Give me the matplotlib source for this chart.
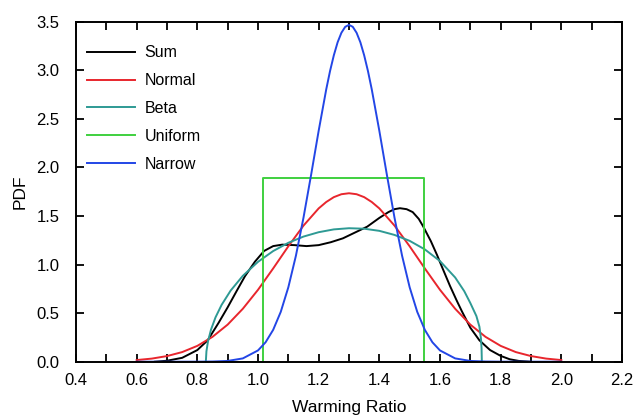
import numpy as np
import matplotlib
matplotlib.use("Agg")
import matplotlib.pyplot as plt
from matplotlib.ticker import MultipleLocator

plt.rcParams['font.family'] = ['Liberation Sans', 'DejaVu Sans']

# values
sum_x = [0.66, 0.70, 0.75, 0.80, 0.834, 0.87, 0.90, 0.93, 0.957, 0.99, 1.02, 1.05, 1.08,
         1.12, 1.16, 1.20, 1.24, 1.28, 1.32, 1.36, 1.40, 1.43, 1.45, 1.468, 1.49, 1.51,
         1.53, 1.545, 1.57, 1.59, 1.61, 1.633, 1.655, 1.672, 1.70, 1.73, 1.765, 1.80,
         1.83, 1.86, 1.90]
sum_y = [0.0, 0.01, 0.04, 0.12, 0.22, 0.40, 0.56, 0.73, 0.88, 1.03, 1.14, 1.19, 1.205,
         1.20, 1.19, 1.20, 1.23, 1.27, 1.33, 1.39, 1.48, 1.54, 1.57, 1.58, 1.57, 1.54,
         1.47, 1.39, 1.24, 1.10, 0.95, 0.78, 0.63, 0.52, 0.35, 0.22, 0.12, 0.06,
         0.025, 0.008, 0.0]

normal_x = [0.60, 0.65, 0.70, 0.75, 0.80, 0.85, 0.90, 0.95, 1.00, 1.05, 1.10, 1.15,
            1.20, 1.225, 1.25, 1.275, 1.30, 1.325, 1.35, 1.375, 1.40, 1.45, 1.50,
            1.55, 1.60, 1.65, 1.70, 1.75, 1.80, 1.85, 1.90, 1.95, 2.00]
normal_y = [0.017, 0.032, 0.058, 0.099, 0.163, 0.256, 0.382, 0.545, 0.740, 0.960, 1.188,
            1.401, 1.578, 1.644, 1.694, 1.724, 1.734, 1.724, 1.694, 1.644, 1.578, 1.401,
            1.188, 0.960, 0.740, 0.545, 0.382, 0.256, 0.163, 0.099, 0.058, 0.032, 0.017]

beta_x = [0.828, 0.830, 0.835, 0.845, 0.86, 0.88, 0.91, 0.95, 1.00, 1.05, 1.10, 1.15,
          1.20, 1.25, 1.30, 1.35, 1.40, 1.45, 1.50, 1.55, 1.60, 1.65, 1.68, 1.70,
          1.72, 1.73, 1.735, 1.737, 1.738]
beta_y = [0.0, 0.107, 0.207, 0.330, 0.457, 0.585, 0.733, 0.884, 1.028, 1.139, 1.224,
          1.288, 1.333, 1.362, 1.374, 1.369, 1.347, 1.305, 1.244, 1.156, 1.036, 0.867,
          0.726, 0.604, 0.47, 0.36, 0.24, 0.14, 0.0]

uniform_x = [0.60, 1.018, 1.018, 1.547, 1.547, 2.00]
uniform_y = [0.0, 0.0, 1.89, 1.89, 0.0, 0.0]

narrow_x = [0.60, 0.80, 0.85, 0.90, 0.95, 1.00, 1.025, 1.05, 1.075, 1.10, 1.125, 1.15,
            1.175, 1.20, 1.225, 1.2375, 1.25, 1.2625, 1.275, 1.2875, 1.30, 1.3125,
            1.325, 1.3375, 1.35, 1.3625, 1.375, 1.40, 1.425, 1.45, 1.475, 1.50, 1.525,
            1.55, 1.575, 1.60, 1.65, 1.70, 1.75, 1.80, 2.00]
narrow_y = [0.0, 0.0003, 0.002, 0.008, 0.034, 0.116, 0.200, 0.328, 0.513, 0.766, 1.091,
            1.483, 1.922, 2.377, 2.804, 2.992, 3.154, 3.288, 3.386, 3.447, 3.467, 3.447,
            3.386, 3.288, 3.154, 2.992, 2.804, 2.377, 1.922, 1.483, 1.091, 0.766, 0.513,
            0.328, 0.200, 0.116, 0.034, 0.008, 0.002, 0.0003, 0.0]

fig = plt.figure(figsize=(6.35, 4.17), dpi=100)
ax = fig.add_axes([0.1197, 0.1326, 0.8598, 0.8154])

lw = 1.4
ax.plot(sum_x, sum_y, color='black', lw=lw, label='Sum')
ax.plot(normal_x, normal_y, color='#e8262d', lw=lw, label='Normal')
ax.plot(beta_x, beta_y, color='#2e9a94', lw=lw, label='Beta')
ax.plot(uniform_x, uniform_y, color='#3fd03f', lw=lw, label='Uniform')
ax.plot(narrow_x, narrow_y, color='#2346e6', lw=lw, label='Narrow')

ax.set_xlim(0.4, 2.2)
ax.set_ylim(0, 3.5)
ax.xaxis.set_major_locator(MultipleLocator(0.2))
ax.xaxis.set_minor_locator(MultipleLocator(0.1))
ax.yaxis.set_major_locator(MultipleLocator(0.5))
ax.xaxis.set_major_formatter(plt.FormatStrFormatter('%.1f'))
ax.yaxis.set_major_formatter(plt.FormatStrFormatter('%.1f'))
ax.tick_params(which='both', direction='in', top=True, right=True, length=6, width=1.3,
               labelsize=12)
ax.tick_params(axis='x', pad=8)
ax.tick_params(axis='y', pad=12)
for s in ax.spines.values():
    s.set_linewidth(1.4)

ax.set_xlabel('Warming Ratio', fontsize=12.5, labelpad=9)
ax.set_ylabel('PDF', fontsize=12.5, labelpad=6)

ax.legend(loc='upper left', bbox_to_anchor=(0.02, 0.93), frameon=False, fontsize=11.5,
          handlelength=3.0, handletextpad=0.6, labelspacing=0.8, borderpad=0,
          borderaxespad=0)

fig.savefig('out.png', dpi=100)
